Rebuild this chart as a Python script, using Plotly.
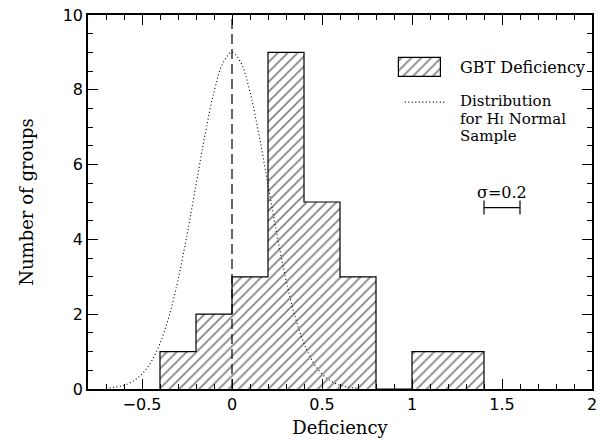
import plotly.graph_objects as go

# ---- data ----
bin_left = [-0.4, -0.2, 0.0, 0.2, 0.4, 0.6, 0.8, 1.0, 1.2]
bin_width = 0.2
counts = [1, 2, 3, 9, 5, 3, 0, 1, 1]

curve_x = [-0.70, -0.65, -0.60, -0.55, -0.50, -0.45, -0.40, -0.35, -0.30, -0.25,
           -0.20, -0.15, -0.10, -0.05, 0.00, 0.05, 0.10, 0.15, 0.20, 0.25,
           0.30, 0.35, 0.40, 0.45, 0.50, 0.55, 0.60, 0.65, 0.70]
curve_y = [0.02, 0.05, 0.10, 0.21, 0.40, 0.72, 1.22, 1.94, 2.92, 4.12,
           5.46, 6.79, 7.94, 8.72, 9.00, 8.72, 7.94, 6.79, 5.46, 4.12,
           2.92, 1.94, 1.22, 0.72, 0.40, 0.21, 0.10, 0.05, 0.02]

x_ticks = [-0.5, 0, 0.5, 1, 1.5, 2]
x_tick_text = ["\u22120.5", "0", "0.5", "1", "1.5", "2"]
y_ticks = [0, 2, 4, 6, 8, 10]

sigma_bar = [1.4, 1.6]
sigma_y = 4.85

legend_lines = ["Distribution", "for H<span style='font-size:11px'>I</span> Normal", "Sample"]

# ---- style ----
FONT = "DejaVu Serif"
TICKFONT = "DejaVu Sans"
black = "black"
hatch = dict(shape="/", fgcolor=black, bgcolor="white", size=7, solidity=0.23)

centers = [b + bin_width / 2 for b in bin_left]
# step outline of the histogram
step_x = [bin_left[0]] + bin_left + [bin_left[-1] + bin_width]
step_y = [0] + counts + [0]

fig = go.Figure()

fig.add_trace(go.Bar(
    x=centers, y=counts, width=bin_width,
    marker=dict(color="white", line=dict(width=0), pattern=hatch),
    showlegend=False, hoverinfo="skip"))

fig.add_trace(go.Scatter(
    x=step_x, y=step_y, mode="lines", line=dict(color=black, width=1.2, shape="hv"),
    showlegend=False, hoverinfo="skip"))

fig.add_trace(go.Scatter(
    x=curve_x, y=curve_y, mode="lines",
    line=dict(color=black, width=1.1, dash="1px,2.5px", shape="spline"),
    showlegend=False, hoverinfo="skip"))

# vertical dashed line at 0
fig.add_trace(go.Scatter(
    x=[0, 0], y=[0, 10], mode="lines", line=dict(color=black, width=1.2, dash="10px,5px"),
    showlegend=False, hoverinfo="skip"))

# legend key: hatched box
fig.add_trace(go.Bar(
    x=[1.045], y=[0.52], base=[8.33], width=[0.233],
    marker=dict(color="white", line=dict(color=black, width=1.2), pattern=hatch),
    showlegend=False, hoverinfo="skip"))
# legend key: dotted line
fig.add_trace(go.Scatter(
    x=[0.96, 1.19], y=[7.67, 7.67], mode="lines",
    line=dict(color=black, width=1.1, dash="1px,2.5px"),
    showlegend=False, hoverinfo="skip"))

# sigma scale bar
fig.add_trace(go.Scatter(
    x=sigma_bar, y=[sigma_y, sigma_y], mode="lines+markers",
    line=dict(color=black, width=1.2),
    marker=dict(symbol="line-ns-open", size=10, line=dict(color=black, width=1.2)),
    showlegend=False, hoverinfo="skip"))

annots = [dict(x=1.255, y=8.6, text="GBT Deficiency", xanchor="left", yanchor="middle", size=16)]
for i, t in enumerate(legend_lines):
    annots.append(dict(x=1.255, y=7.70 - 0.47 * i, text=t, xanchor="left", yanchor="middle", size=15))
annots.append(dict(x=1.5, y=5.25, text="\u03c3=0.2", xanchor="center", yanchor="middle", size=16))
for a in annots:
    s = a.pop("size")
    a.update(xref="x", yref="y", showarrow=False, font=dict(family=FONT, size=s, color=black))
fig.update_layout(annotations=annots)

axis_common = dict(showline=True, linecolor=black, linewidth=1.5, mirror="allticks",
                   ticks="inside", ticklen=10, tickwidth=1, tickcolor=black,
                   showgrid=False, zeroline=False, automargin=False, ticklabeloverflow="allow",
                   tickfont=dict(family=TICKFONT, size=16, color=black))

fig.update_xaxes(range=[-0.8, 2.0], tickvals=x_ticks, ticktext=x_tick_text,
                 minor=dict(dtick=0.1, tick0=0, ticks="inside", ticklen=5, tickcolor=black),
                 title=dict(text="Deficiency", font=dict(family=FONT, size=18, color=black), standoff=8),
                 **axis_common)
fig.update_yaxes(range=[0, 10], tickvals=y_ticks,
                 minor=dict(dtick=0.5, tick0=0, ticks="inside", ticklen=5, tickcolor=black),
                 title=dict(text="Number of groups", font=dict(family=FONT, size=18, color=black), standoff=24),
                 **axis_common)

fig.update_layout(width=613, height=445, margin=dict(l=88, r=21, t=15, b=56),
                  plot_bgcolor="white", paper_bgcolor="white", barmode="overlay", bargap=0,
                  font=dict(family=FONT, color=black))

fig.write_html("out.html", config={"displayModeBar": False},
               post_script="document.body.style.margin='0px';")
